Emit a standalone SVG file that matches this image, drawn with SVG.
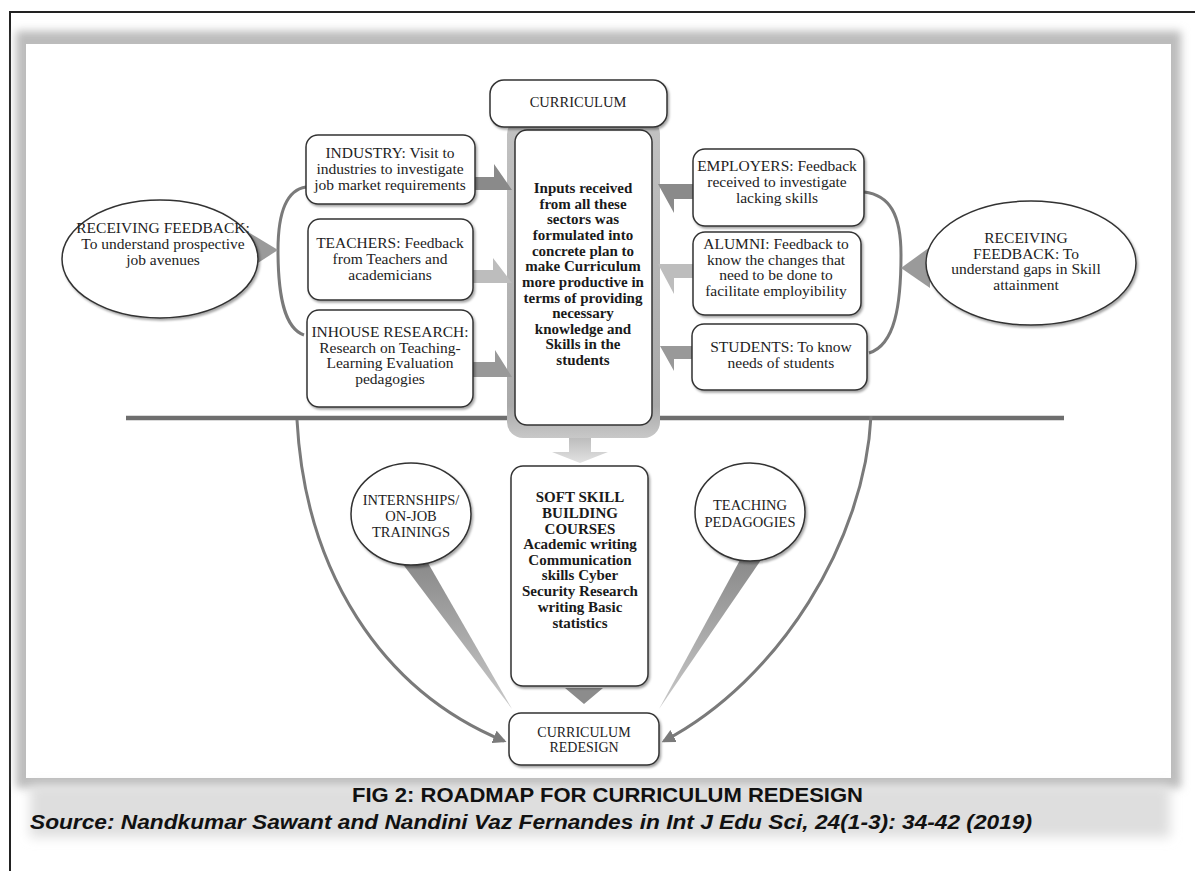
<svg xmlns="http://www.w3.org/2000/svg" width="1195" height="871" viewBox="0 0 1195 871">
<defs>
<style>
.box{fill:#fff;stroke:#333;stroke-width:1.5;filter:url(#ds)}
.t{font-family:"Liberation Serif","Times New Roman",serif;font-size:15.5px;fill:#222;text-anchor:middle}
.b{font-weight:bold;font-size:15px;fill:#1a1a1a}
.s{font-size:14.5px}
.conn{fill:none;stroke:#7a7a7a;stroke-width:3}
.cap{font-family:"Liberation Sans",Arial,sans-serif;font-weight:bold;fill:#111}
</style>
<filter id="ds" x="-10%" y="-10%" width="130%" height="130%"><feDropShadow dx="1.5" dy="2" stdDeviation="1.2" flood-color="#000" flood-opacity="0.35"/></filter>
<filter id="blur" x="-5%" y="-20%" width="110%" height="140%"><feGaussianBlur stdDeviation="4"/></filter>
<filter id="blur2" x="-5%" y="-50%" width="110%" height="200%"><feGaussianBlur stdDeviation="6"/></filter>
<linearGradient id="colg" x1="0" y1="0" x2="0" y2="1"><stop offset="0" stop-color="#c2c2c2"/><stop offset="0.9" stop-color="#a9a9a9"/><stop offset="1" stop-color="#c8c8c8"/></linearGradient>
<linearGradient id="downg" x1="0" y1="0" x2="0" y2="1"><stop offset="0" stop-color="#bdbdbd"/><stop offset="1" stop-color="#e2e2e2"/></linearGradient>
<linearGradient id="wedgeL" x1="0" y1="0" x2="0" y2="1"><stop offset="0" stop-color="#8a8a8a"/><stop offset="1" stop-color="#c9c9c9"/></linearGradient>
<marker id="ah" viewBox="0 0 10 10" refX="8" refY="5" markerWidth="4.5" markerHeight="4.5" orient="auto"><path d="M0,0 L10,5 L0,10 z" fill="#7a7a7a"/></marker>
</defs>

<rect width="1195" height="871" fill="#fff"/>
<!-- outer frame -->
<path d="M10,871 V12 H1195" fill="none" stroke="#222" stroke-width="2"/>
<!-- picture shadow and canvas -->
<rect x="16" y="31" width="1165" height="757" fill="#bcbcbc" filter="url(#blur)"/>
<rect x="26" y="44" width="1145" height="734" fill="#fff"/>
<!-- caption backdrop -->
<rect x="30" y="785" width="1140" height="52" fill="#dedede" filter="url(#blur2)"/>

<!-- connectors -->
<g id="connectors">
  <line x1="126" y1="418" x2="1064" y2="418" stroke="#6e6e6e" stroke-width="4.5"/>
  <path class="conn" d="M306,187 C286,190 278,215 278,250 C278,295 284,328 304,335"/>
  <path class="conn" d="M864,192 C890,195 901,215 901,255 C901,305 895,345 869,353"/>
  <polygon points="248,232 250,268 278,250" fill="#9a9a9a"/>
  <polygon points="930,247 930,288 901,268" fill="#9a9a9a"/>
  <path class="conn" d="M297,420 C305,570 380,690 504,741" marker-end="url(#ah)"/>
  <path class="conn" d="M871,416 C865,540 780,680 664,741" marker-end="url(#ah)"/>
  <polygon points="402,563 428,563 512,709" fill="url(#wedgeL)"/>
  <polygon points="740,560 761,560 659,709" fill="url(#wedgeL)"/>
  <polygon points="565,688 603,688 584,704" fill="#8c8c8c"/>
</g>

<!-- central column -->
<g id="center">
  <rect x="507" y="118" width="153" height="320" rx="16" fill="url(#colg)"/>
  <polygon points="475,177 494,177 494,164 512,190 475,190" fill="#8a8a8a"/>
  <polygon points="473,270 493,270 493,258 512,283 473,283" fill="#bdbdbd"/>
  <polygon points="473,362 495,362 495,350 512,377 473,377" fill="#999"/>
  <polygon points="693,184 658,184 674,213 674,199 693,199" fill="#8a8a8a"/>
  <polygon points="693,264 658,264 674,294 674,278 693,278" fill="#bdbdbd"/>
  <polygon points="692,346 660,346 674,371 674,359 692,359" fill="#999"/>
  <rect x="515" y="130" width="137" height="295" rx="12" fill="#fff" stroke="#333" stroke-width="1.5"/>
  <text class="t b" x="583"><tspan x="583" y="193">Inputs received</tspan><tspan x="583" y="208.5">from all these</tspan><tspan x="583" y="224">sectors was</tspan><tspan x="583" y="240">formulated into</tspan><tspan x="583" y="255.5">concrete plan to</tspan><tspan x="583" y="271">make Curriculum</tspan><tspan x="583" y="287">more productive in</tspan><tspan x="583" y="302.5">terms of providing</tspan><tspan x="583" y="318">necessary</tspan><tspan x="583" y="333.5">knowledge and</tspan><tspan x="583" y="349">Skills in the</tspan><tspan x="583" y="364.5">students</tspan></text>
  <polygon points="569,438 591,438 591,452 608,452 580,463 552,452 569,452" fill="url(#downg)"/>
</g>

<g id="curriculum">
  <rect class="box" x="490" y="80" width="177" height="47" rx="14"/>
  <text class="t s" x="578" y="107">CURRICULUM</text>
</g>

<g id="industry">
  <rect class="box" x="306" y="135" width="169" height="69" rx="12"/>
  <text class="t"><tspan x="390" y="158">INDUSTRY: Visit to</tspan><tspan x="390" y="174">industries to investigate</tspan><tspan x="390" y="189.5">job market requirements</tspan></text>
</g>
<g id="teachers">
  <rect class="box" x="308" y="219" width="165" height="81" rx="12"/>
  <text class="t"><tspan x="390" y="248">TEACHERS: Feedback</tspan><tspan x="390" y="264">from Teachers and</tspan><tspan x="390" y="280">academicians</tspan></text>
</g>
<g id="inhouse">
  <rect class="box" x="307" y="310" width="166" height="97" rx="12"/>
  <text class="t"><tspan x="390" y="337">INHOUSE RESEARCH:</tspan><tspan x="390" y="352.5">Research on Teaching-</tspan><tspan x="390" y="368">Learning Evaluation</tspan><tspan x="390" y="383.5">pedagogies</tspan></text>
</g>

<g id="employers">
  <rect class="box" x="693" y="149" width="171" height="77" rx="12"/>
  <text class="t"><tspan x="777" y="171">EMPLOYERS: Feedback</tspan><tspan x="777" y="187">received to investigate</tspan><tspan x="777" y="202.5">lacking skills</tspan></text>
</g>
<g id="alumni">
  <rect class="box" x="693" y="232" width="168" height="83" rx="12"/>
  <text class="t"><tspan x="776" y="249">ALUMNI: Feedback to</tspan><tspan x="776" y="264.5">know the changes that</tspan><tspan x="776" y="280">need to be done to</tspan><tspan x="776" y="296">facilitate employibility</tspan></text>
</g>
<g id="students">
  <rect class="box" x="692" y="324" width="175" height="66" rx="12"/>
  <text class="t"><tspan x="781" y="352">STUDENTS: To know</tspan><tspan x="781" y="368">needs of students</tspan></text>
</g>

<g id="feedback-left">
  <ellipse class="box" cx="160" cy="259" rx="98" ry="59"/>
  <text class="t"><tspan x="163" y="233">RECEIVING FEEDBACK:</tspan><tspan x="163" y="249">To understand prospective</tspan><tspan x="163" y="265">job avenues</tspan></text>
</g>
<g id="feedback-right">
  <ellipse class="box" cx="1031" cy="263" rx="105" ry="62"/>
  <text class="t"><tspan x="1026" y="243">RECEIVING</tspan><tspan x="1026" y="258.5">FEEDBACK: To</tspan><tspan x="1026" y="274">understand gaps in Skill</tspan><tspan x="1026" y="290">attainment</tspan></text>
</g>

<g id="internships">
  <ellipse class="box" cx="411" cy="514" rx="60" ry="51"/>
  <text class="t s"><tspan x="411" y="505">INTERNSHIPS/</tspan><tspan x="411" y="521">ON-JOB</tspan><tspan x="411" y="536.5">TRAININGS</tspan></text>
</g>
<g id="teaching">
  <ellipse class="box" cx="750" cy="512" rx="55" ry="49"/>
  <text class="t s"><tspan x="750" y="510">TEACHING</tspan><tspan x="750" y="527">PEDAGOGIES</tspan></text>
</g>

<g id="softskill">
  <rect class="box" x="511" y="466" width="137" height="220" rx="12"/>
  <text class="t b"><tspan x="580" y="502">SOFT SKILL</tspan><tspan x="580" y="518">BUILDING</tspan><tspan x="580" y="533.5">COURSES</tspan><tspan x="580" y="549">Academic writing</tspan><tspan x="580" y="564.5">Communication</tspan><tspan x="580" y="580">skills Cyber</tspan><tspan x="580" y="596">Security Research</tspan><tspan x="580" y="612">writing Basic</tspan><tspan x="580" y="628">statistics</tspan></text>
</g>

<g id="redesign">
  <rect class="box" x="509" y="713" width="150" height="52" rx="12"/>
  <text class="t" style="font-size:14px"><tspan x="584" y="737">CURRICULUM</tspan><tspan x="584" y="752">REDESIGN</tspan></text>
</g>

<g id="caption">
  <text class="cap" x="352" y="802" font-size="21" textLength="511" lengthAdjust="spacingAndGlyphs">FIG 2: ROADMAP FOR CURRICULUM REDESIGN</text>
  <text class="cap" x="30" y="829" font-size="21" font-style="italic" textLength="1002" lengthAdjust="spacingAndGlyphs">Source: Nandkumar Sawant and Nandini Vaz Fernandes in Int J Edu Sci, 24(1-3): 34-42 (2019)</text>
</g>
</svg>
